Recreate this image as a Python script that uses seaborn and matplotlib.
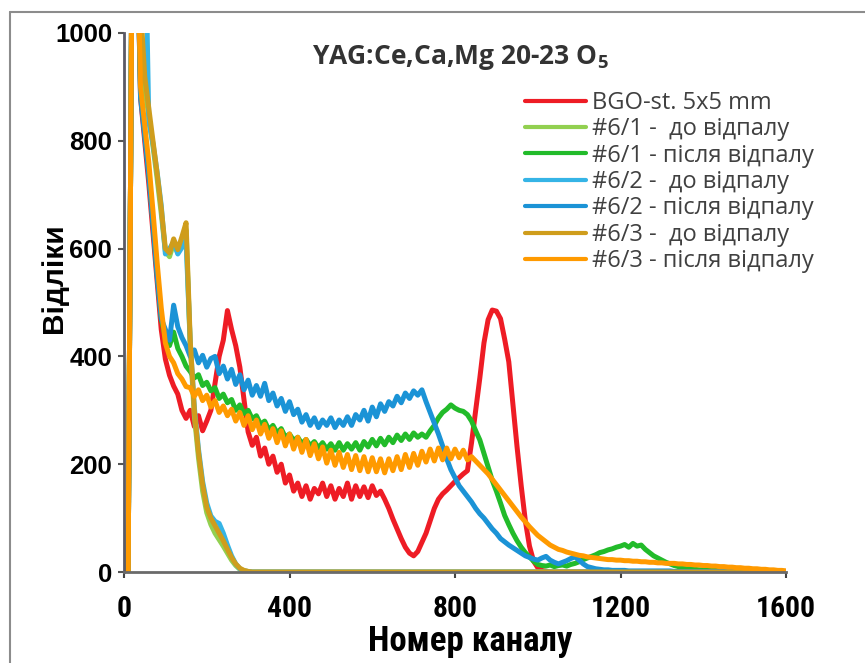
import numpy as np
import pandas as pd
import matplotlib
matplotlib.use("Agg")
import matplotlib.pyplot as plt
import seaborn as sns
from matplotlib import font_manager
from matplotlib.lines import Line2D

# ---------------- data ----------------
LABELS = ["BGO-st. 5x5 mm", "#6/1 -  до відпалу", "#6/1 - після відпалу",
          "#6/2 -  до відпалу", "#6/2 - після відпалу",
          "#6/3 -  до відпалу", "#6/3 - після відпалу"]
COLORS = ["#ee1c25", "#92d050", "#22bb2a", "#35b4e6", "#1b93d6", "#cf9d1c", "#ff9a00"]

CH = np.arange(0, 1601, 10)          # channel grid for the long spectra
CH_B = [0, 10, 20, 30, 40, 50, 60, 70, 80, 90, 100, 110, 120, 130, 140, 150, 160,
        170, 180, 190, 200, 210, 220, 230, 240, 250, 260, 270, 280, 290, 300, 310, 320, 1600]

bgo = [0, 0, 1250, 1250, 880, 800, 720, 630, 540, 450,
       395, 365, 345, 330, 300, 285, 300, 270, 290, 262,
       280, 300, 350, 400, 430, 485, 450, 420, 380, 320,
       260, 235, 250, 215, 230, 200, 215, 185, 200, 165,
       180, 150, 165, 140, 160, 135, 155, 145, 165, 140,
       160, 135, 155, 140, 165, 135, 160, 140, 158, 138,
       160, 142, 150, 135, 118, 98, 80, 62, 46, 35,
       30, 38, 55, 72, 95, 118, 135, 145, 152, 160,
       168, 175, 182, 188, 240, 300, 360, 425, 468, 486,
       484, 470, 432, 390, 310, 232, 160, 95, 48, 20,
       8, 3, 1, 0, 0, 0, 0, 0, 0, 0,
       0, 0, 0, 0, 0, 0, 0, 0, 0, 0,
       0, 0, 0, 0, 0, 0, 0, 0, 0, 0,
       0, 0, 0, 0, 0, 0, 0, 0, 0, 0,
       0, 0, 0, 0, 0, 0, 0, 0, 0, 0,
       0, 0, 0, 0, 0, 0, 0, 0, 0, 0,
       0]

s61_after = [0, 0, 1250, 1250, 890, 815, 740, 650, 555, 470,
             435, 420, 445, 415, 400, 382, 372, 360, 366, 346,
             352, 336, 342, 322, 330, 314, 320, 300, 310, 294,
             300, 284, 290, 274, 280, 264, 272, 258, 266, 250,
             256, 244, 250, 238, 246, 234, 242, 230, 240, 228,
             238, 226, 240, 226, 238, 228, 240, 226, 242, 232,
             246, 234, 248, 236, 250, 240, 254, 244, 256, 246,
             258, 250, 256, 250, 262, 272, 286, 296, 302, 310,
             304, 300, 298, 292, 280, 262, 245, 220, 195, 170,
             150, 128, 105, 88, 72, 58, 46, 36, 28, 20,
             14, 12, 11, 13, 10, 12, 13, 11, 14, 16,
             19, 23, 26, 29, 32, 36, 38, 41, 43, 46,
             48, 51, 46, 53, 48, 50, 42, 36, 30, 26,
             22, 18, 15, 12, 10, 8, 7, 6, 5, 4,
             4, 3, 3, 3, 2, 2, 2, 2, 2, 2,
             1, 1, 1, 1, 1, 1, 1, 1, 1, 1,
             1]

s62_after = [0, 0, 1250, 1250, 880, 810, 735, 645, 550, 470,
             450, 430, 495, 455, 435, 420, 400, 412, 388, 402,
             380, 396, 400, 368, 382, 358, 376, 348, 366, 338,
             356, 328, 346, 326, 350, 318, 332, 308, 322, 298,
             316, 292, 302, 278, 292, 272, 286, 268, 282, 272,
             286, 268, 282, 272, 288, 272, 292, 282, 300, 280,
             306, 288, 312, 298, 316, 308, 326, 314, 332, 322,
             336, 328, 338, 316, 296, 276, 256, 234, 210, 190,
             175, 160, 150, 140, 130, 118, 108, 100, 90, 80,
             72, 62, 56, 50, 45, 40, 35, 30, 27, 24,
             22, 26, 29, 22, 18, 15, 18, 21, 25, 28,
             22, 15, 10, 8, 6, 5, 4, 4, 3, 3,
             3, 3, 2, 2, 2, 2, 2, 2, 2, 2,
             2, 2, 2, 1, 1, 1, 1, 1, 1, 1,
             1, 1, 1, 1, 1, 1, 1, 1, 1, 1,
             1, 1, 1, 1, 1, 1, 1, 1, 1, 1,
             1]

s63_after = [0, 0, 1250, 1250, 900, 830, 760, 670, 575, 490,
             425, 400, 388, 368, 358, 344, 342, 326, 338, 318,
             328, 306, 318, 296, 308, 290, 302, 280, 296, 272,
             290, 264, 282, 256, 274, 248, 266, 240, 262, 234,
             256, 228, 250, 222, 246, 216, 238, 210, 232, 202,
             226, 198, 222, 194, 218, 190, 216, 188, 214, 186,
             212, 186, 210, 184, 210, 188, 214, 190, 218, 194,
             220, 198, 224, 204, 228, 206, 230, 208, 230, 210,
             228, 212, 226, 208, 214, 206, 198, 190, 182, 172,
             162, 152, 142, 132, 122, 112, 102, 93, 84, 76,
             68, 62, 56, 50, 46, 42, 40, 37, 35, 33,
             31, 30, 28, 27, 26, 25, 24, 23, 23, 22,
             22, 21, 21, 20, 20, 19, 19, 18, 18, 17,
             17, 16, 16, 16, 15, 15, 14, 14, 13, 13,
             12, 12, 11, 11, 10, 10, 9, 9, 8, 8,
             7, 7, 6, 6, 5, 5, 4, 4, 3, 3,
             2]

s61_before = [0, 0, 1250, 1250, 1020, 900, 845, 790, 730, 665, 595, 585, 610, 592, 612, 635, 420,
              290, 212, 150, 110, 88, 72, 60, 48, 35, 22, 12, 5, 2, 1, 0, 0, 0]
s62_before = [0, 0, 1250, 1250, 1250, 1250, 835, 795, 742, 680, 590, 600, 612, 590, 602, 615, 428,
              305, 228, 168, 128, 104, 94, 90, 72, 50, 30, 15, 6, 2, 1, 0, 0, 0]
s63_before = [0, 0, 1250, 1250, 1050, 920, 860, 800, 740, 675, 600, 592, 618, 598, 622, 648, 430,
              300, 222, 162, 120, 100, 86, 72, 58, 42, 27, 15, 7, 3, 1, 0, 0, 0]

XTICKS = [0, 400, 800, 1200, 1600]
YTICKS = [0, 200, 400, 600, 800, 1000]
TITLE = r"YAG:Ce,Ca,Mg 20-23 O$_\mathbf{5}$"
XLABEL = "Номер каналу"
YLABEL = "Відліки"

series = [(LABELS[0], CH, bgo), (LABELS[1], CH_B, s61_before), (LABELS[2], CH, s61_after),
          (LABELS[3], CH_B, s62_before), (LABELS[4], CH, s62_after),
          (LABELS[5], CH_B, s63_before), (LABELS[6], CH, s63_after)]
df = pd.concat([pd.DataFrame({"channel": np.asarray(x), "counts": np.asarray(y), "series": n})
                for n, x, y in series], ignore_index=True)

# ---------------- style ----------------
sns.set_theme(style="white")
entries = font_manager.fontManager.ttflist
available = {f.name for f in entries}
NARROW = {"family": ["Liberation Sans", "DejaVu Sans"]}
for cand in ["Liberation Sans Narrow", "Roboto Condensed", "Open Sans Condensed",
             "Arial Narrow", "Noto Sans Condensed"]:
    if cand in available:
        NARROW = {"family": [cand, "DejaVu Sans"]}
        break
else:
    if any(f.name == "DejaVu Sans" and "condensed" in str(f.stretch) for f in entries):
        NARROW = {"family": ["DejaVu Sans"], "stretch": "condensed"}

plt.rcParams["font.family"] = ["Liberation Sans", "DejaVu Sans"]
TITLE_FAMILY = "Open Sans" if "Open Sans" in available else "Liberation Sans"
plt.rcParams["mathtext.fontset"] = "custom"
plt.rcParams["mathtext.rm"] = TITLE_FAMILY
plt.rcParams["mathtext.bf"] = TITLE_FAMILY + ":bold"

W, H = 865, 663
fig = plt.figure(figsize=(W / 100, H / 100), dpi=100)
renderer = fig.canvas.get_renderer()


def fitted_size(text, target_w, base=20, **kw):
    t = fig.text(0, 0, text, fontsize=base, **kw)
    w = t.get_window_extent(renderer).width
    t.remove()
    return base * target_w / w


ax = fig.add_axes([124 / W, 1 - 572 / H, (786 - 124) / W, (572 - 33) / H])

sns.lineplot(data=df, x="channel", y="counts", hue="series", hue_order=LABELS,
             palette=dict(zip(LABELS, COLORS)), linewidth=3.6, estimator=None,
             sort=False, ax=ax, legend=True)

ax.set_xlim(0, 1600)
ax.set_ylim(0, 1000)
ax.set_xticks(XTICKS)
ax.set_yticks(YTICKS)
ax.set_xlabel("")
ax.set_ylabel("")
for s in ["top", "right"]:
    ax.spines[s].set_visible(False)
ax.spines["left"].set_color("#5a5a66")
ax.spines["left"].set_linewidth(2)
ax.spines["bottom"].set_color("#6a6a6a")
ax.spines["bottom"].set_linewidth(2)

xtick_size = min(24, fitted_size("1600", 60, weight="bold", **NARROW))
ax.tick_params(axis="y", direction="out", length=4.5, width=1.5, color="#555",
               pad=4, labelsize=18.5, left=True)
ax.tick_params(axis="x", direction="out", length=4.5, width=1.5, color="#444",
               pad=12, labelsize=xtick_size, bottom=True)
for t in ax.get_yticklabels():
    t.set_fontweight("bold")
    t.set_color("black")
for t in ax.get_xticklabels():
    t.set_fontweight("bold")
    t.set_family(NARROW["family"])
    if "stretch" in NARROW:
        t.set_stretch(NARROW["stretch"])
    t.set_color("black")

leg_size = min(17, fitted_size(LABELS[2], 243, family="Open Sans"))
handles, labels = ax.get_legend_handles_labels()
leg = ax.legend(handles, labels, loc="upper left",
                bbox_to_anchor=(525 / W, 1 - 91 / H), bbox_transform=fig.transFigure,
                frameon=False, prop={"family": "Open Sans", "size": leg_size},
                handlelength=2.6, handletextpad=0.25,
                labelspacing=0.1, borderpad=0, borderaxespad=0, labelcolor="#404040")
for h in leg.get_lines():
    h.set_linewidth(3)

title_size = min(19, fitted_size(TITLE, 315, weight="bold", family=TITLE_FAMILY))
fig.text(460 / W, 1 - 57 / H, TITLE, ha="center", va="center", fontsize=title_size,
         fontweight="bold", color="#333333", family=TITLE_FAMILY)
xl_size = min(25, fitted_size(XLABEL, 208, weight="bold", **NARROW))
fig.text(470 / W, 1 - 642 / H, XLABEL, ha="center", va="center", fontsize=xl_size,
         fontweight="bold", color="black", **NARROW)
fig.text(54 / W, 1 - 278 / H, YLABEL, ha="center", va="center", rotation=90,
         fontsize=21.5, fontweight="bold", color="black")

fig.add_artist(Line2D([10 / W, 1], [1 - 12 / H, 1 - 12 / H], transform=fig.transFigure,
                      color="#8c8c8c", lw=1.5))
fig.add_artist(Line2D([10 / W, 10 / W], [0, 1 - 12 / H], transform=fig.transFigure,
                      color="#8c8c8c", lw=1.5))

fig.savefig("out.png", dpi=100)
